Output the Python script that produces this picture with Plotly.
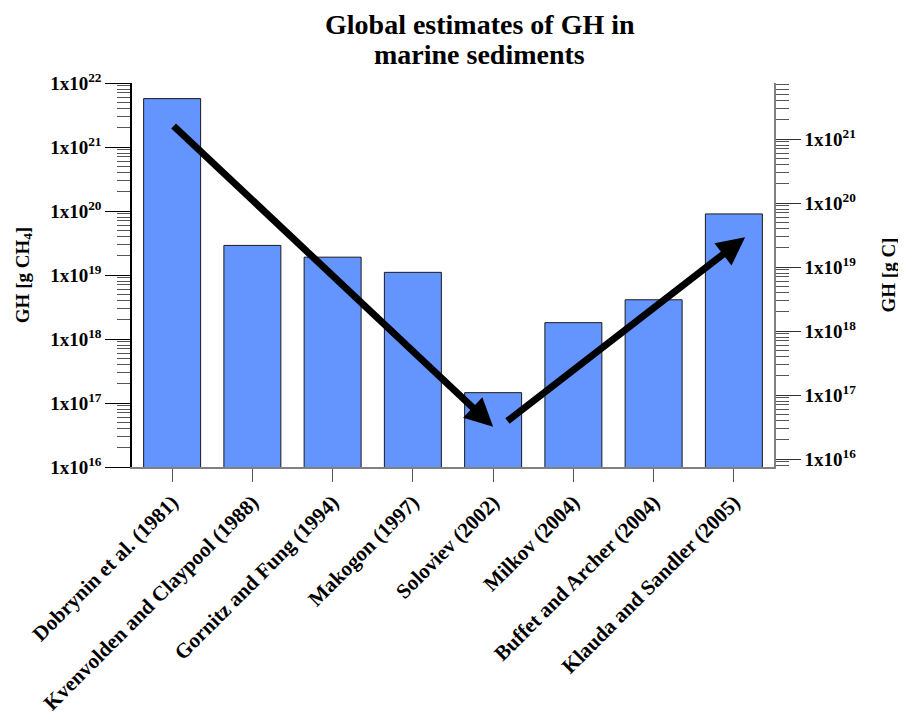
import math
import plotly.graph_objects as go

categories = ["Dobrynin et al. (1981)", "Kvenvolden and Claypool (1988)", "Gornitz and Fung (1994)",
              "Makogon (1997)", "Soloviev (2002)", "Milkov (2004)", "Buffet and Archer (2004)",
              "Klauda and Sandler (2005)"]
gh_ch4 = [5.7e21, 2.9e19, 1.9e19, 1.1e19, 1.45e17, 1.8e18, 4.1e18, 9.0e19]
ch4_to_c = 12.0 / 16.0
gh_c = [v * ch4_to_c for v in gh_ch4]

left_range_exp = [16, 22]
tick_vals = [10.0 ** e for e in range(16, 23)]
tick_text = ["1x10<sup>%d</sup>" % e for e in range(16, 23)]
title_lines = ["Global estimates of GH in", "marine sediments"]

# trend arrows: (tail x, tail log10 y, head x, head log10 y)
arrows = [
    (0.0, 21.35, 4.0, 16.63),
    (4.16, 16.70, 7.14, 19.59),
]

FONT = "Liberation Serif"
W, H = 898, 709          # page body has an 8px margin
L, R, T, B = 124, 132, 75, 250

fig = go.Figure()
fig.add_trace(go.Bar(
    x=list(range(len(categories))), y=gh_ch4,
    marker=dict(color="#6495FF", line=dict(color="#1a1a1a", width=1)),
    width=0.71, showlegend=False, hoverinfo="x+y"))
fig.add_trace(go.Scatter(
    x=list(range(len(categories))), y=gh_c, yaxis="y2", mode="markers",
    marker=dict(opacity=0), showlegend=False, hoverinfo="skip"))

for (tx, ty, hx, hy) in arrows:
    fig.add_annotation(x=hx, y=hy, ax=tx, ay=ty, xref="x", yref="y", axref="x", ayref="y",
                       showarrow=True, arrowhead=2, arrowsize=0.8, arrowwidth=7,
                       arrowcolor="black", text="")

plot_w = W - L - R
for i, line in enumerate(title_lines):
    fig.add_annotation(text="<b>%s</b>" % line,
                       xref="paper", yref="paper", x=(480 - 8 - L) / plot_w, y=1,
                       yshift=T + 1 - 30 * i, xanchor="center", yanchor="top", showarrow=False,
                       font=dict(family=FONT, size=28, color="black"))

tickfont = dict(family=FONT, size=19, color="black", weight="bold")

fig.update_layout(
    width=W, height=H,
    margin=dict(l=L, r=R, t=T, b=B, autoexpand=False),
    paper_bgcolor="white", plot_bgcolor="white",
    bargap=0.29,
    xaxis=dict(
        tickmode="array", tickvals=list(range(len(categories))), ticktext=categories,
        range=[-0.5, len(categories) - 0.5], tickangle=-45,
        ticks="outside", ticklen=13, tickcolor="#555555", tickwidth=1,
        showline=True, linecolor="#808080", linewidth=1.5, showgrid=False, zeroline=False,
        tickfont=dict(family=FONT, size=21, color="black", weight="bold")),
    yaxis=dict(
        type="log", range=left_range_exp, tickmode="array", tickvals=tick_vals, ticktext=tick_text,
        ticks="outside", ticklen=25, tickcolor="black", tickwidth=1,
        minor=dict(ticks="outside", ticklen=13, tickcolor="#555555", dtick="D1", showgrid=False),
        showline=True, linecolor="black", linewidth=1.5, showgrid=False, zeroline=False,
        tickfont=tickfont,
        title=dict(text="GH [g CH<sub>4</sub>]", standoff=16,
                   font=dict(family=FONT, size=19, color="black", weight="bold"))),
    yaxis2=dict(
        type="log", overlaying="y", side="right",
        range=[left_range_exp[0] + math.log10(ch4_to_c),
               left_range_exp[1] + math.log10(ch4_to_c)],
        tickmode="array", tickvals=tick_vals[:-1], ticktext=tick_text[:-1],
        ticks="outside", ticklen=25, tickcolor="#333333", tickwidth=1,
        minor=dict(ticks="outside", ticklen=13, tickcolor="#555555", dtick="D1", showgrid=False),
        showline=True, linecolor="#808080", linewidth=1.5, showgrid=False, zeroline=False,
        tickfont=tickfont,
        title=dict(text="GH [g C]", standoff=27,
                   font=dict(family=FONT, size=19, color="black", weight="bold"))),
)

fig.write_html("out.html")
